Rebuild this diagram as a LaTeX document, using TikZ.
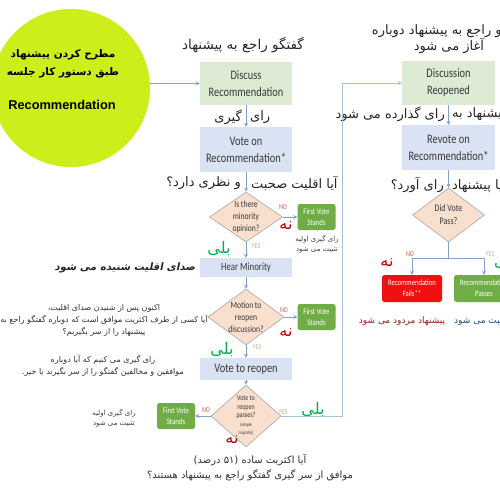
\documentclass[tikz,border=0pt]{standalone}
\usepackage{fontspec}
\setmainfont{DejaVu Sans}
\newfontfamily\farsi[Script=Arabic]{DejaVu Sans}
\newfontfamily\farsislant[Script=Arabic,FakeSlant=0.2]{DejaVu Sans Bold}
\newfontfamily\boxfont[FakeStretch=0.8]{Carlito}
\newfontfamily\latinfont{Liberation Sans}
\TeXXeTstate=1
\usetikzlibrary{arrows.meta,shapes.geometric}

\definecolor{ideagreen}{RGB}{205,238,26}
\definecolor{palegreen}{RGB}{222,235,212}
\definecolor{paleblue}{RGB}{218,227,243}
\definecolor{peach}{RGB}{249,223,205}
\definecolor{rimgray}{RGB}{175,175,175}
\definecolor{leaf}{RGB}{112,173,71}
\definecolor{firered}{RGB}{240,16,16}
\definecolor{linkblue}{RGB}{132,160,205}
\definecolor{loopblue}{RGB}{170,190,222}
\definecolor{noorange}{RGB}{215,95,80}
\definecolor{yespale}{RGB}{160,200,140}
\definecolor{nared}{RGB}{192,0,0}
\definecolor{baligreen}{RGB}{0,176,80}
\definecolor{inkgray}{RGB}{56,56,56}
\definecolor{navy}{RGB}{31,78,121}
\definecolor{wine}{RGB}{150,30,30}

\tikzset{
  link/.style={draw=linkblue, line width=0.8pt, -{Stealth[length=4pt,width=4pt]}},
  plainbox/.style={rectangle, inner sep=0pt, minimum width=92pt, align=center, text=inkgray, font=\boxfont\fontsize{13}{17}\selectfont},
  greenbox/.style={plainbox, fill=palegreen, minimum height=43pt},
  bluebox/.style={plainbox, fill=paleblue, minimum height=45pt},
  question/.style={diamond, fill=peach, draw=rimgray, line width=0.7pt, inner sep=0pt},
  qtext/.style={align=center, inner sep=0pt, text=inkgray, font=\boxfont\fontsize{9.5}{12}\selectfont},
  standbox/.style={rectangle, rounded corners=2.5pt, fill=leaf, minimum width=38pt, minimum height=26pt, inner sep=0pt, align=center, text=white, font=\boxfont\fontsize{8.5}{11}\selectfont},
  nolbl/.style={text=noorange, inner sep=0pt, font=\boxfont\fontsize{7.5}{9}\selectfont},
  yeslbl/.style={text=yespale, inner sep=0pt, font=\boxfont\fontsize{7.5}{9}\selectfont},
  fahead/.style={inner sep=0pt, align=center, text=black!85, font=\farsi\fontsize{13}{16}\selectfont},
  fanote/.style={inner sep=0pt, align=center, text=black!80, font=\farsi\fontsize{8}{12}\selectfont},
  fasmall/.style={inner sep=0pt, align=center, text=black!75, font=\farsi\fontsize{7}{10}\selectfont},
  fabig/.style={inner sep=0pt, font=\farsi\fontsize{16}{18}\selectfont}
}

\begin{document}
\begin{tikzpicture}[x=1pt,y=-1pt]

  \useasboundingbox (0,0) rectangle (500,500);
  \clip (0,0) rectangle (500,500);
  \fill[white] (0,0) rectangle (500,500);

     \coordinate (I) at (71,88);
      \coordinate (D) at (246,83.5);
       \coordinate (V) at (246,149.5);
        \coordinate (Q) at (246,217);
         \coordinate (H) at (246,267.5);
          \coordinate (M) at (246,317);
           \coordinate (R) at (246,369);
            \coordinate (P) at (246,416);
             \coordinate (S) at (316.5,217);
              \coordinate (T) at (316.5,317);
               \coordinate (U) at (176,416);
                \coordinate (O) at (448.5,83);
                 \coordinate (W) at (448.5,147.5);
                  \coordinate (X) at (448.5,215);
                   \coordinate (F) at (412,288.5);
                    \coordinate (G) at (484,288.5);

      \coordinate (turn) at (342,0);
      \coordinate (split) at (448.5,258);
      \coordinate (fl) at (412,258);
      \coordinate (pr) at (484,258);

   \node[circle, fill=ideagreen, minimum size=158pt, inner sep=0pt] (idea) at (I) {};
   \node[fahead, font=\farsi\bfseries\fontsize{10.5}{18}\selectfont, text=black] (idea1) at (63,64) {\beginR مطرح کردن پیشنهاد\endR\\\beginR طبق دستور کار جلسه\endR};
   \node[inner sep=0pt, font=\latinfont\bfseries\fontsize{12.8}{15}\selectfont] (idea2) at (62,105) {Recommendation};

   \node[greenbox] (discuss) at (D) {Discuss\\Recommendation};
   \node[bluebox] (vote) at (V) {Vote on\\Recommendation*};
   \node[question, minimum width=73pt, minimum height=50pt, label={[qtext]center:{Is there\\minority\\opinion?}}] (minq) at (Q) {};
   \node[plainbox, fill=paleblue, minimum height=19pt, font=\boxfont\fontsize{11}{13}\selectfont] (hear) at (H) {Hear Minority};
   \node[question, minimum width=76pt, minimum height=56pt, label={[qtext]center:{Motion to\\reopen\\discussion?}}] (motq) at (M) {};
   \node[plainbox, fill=paleblue, minimum height=22pt] (reopen) at (R) {Vote to reopen};
   \node[question, minimum width=70pt, minimum height=62pt, label={[qtext, font=\boxfont\fontsize{7.5}{8.5}\selectfont]center:{Vote to\\reopen\\passes?\\{\fontsize{5}{5.5}\selectfont(simple}\\{\fontsize{5}{5.5}\selectfont majority)}}}] (passq) at (P) {};
   \node[standbox] (stand1) at (S) {First Vote\\Stands};
   \node[standbox] (stand2) at (T) {First Vote\\Stands};
   \node[standbox] (stand3) at (U) {First Vote\\Stands};

   \node[greenbox, minimum width=93pt, minimum height=44pt] (reopened) at (O) {Discussion\\Reopened};
   \node[bluebox, minimum width=93pt] (revote) at (W) {Revote on\\Recommendation*};
   \node[question, minimum width=72pt, minimum height=54pt, label={[qtext, font=\boxfont\fontsize{10}{13}\selectfont]center:{Did Vote\\Pass?}}] (didq) at (X) {};
   \node[standbox, fill=firered, minimum width=60pt, minimum height=27pt, font=\boxfont\fontsize{8.3}{11}\selectfont] (fails) at (F) {Recommendation\\Fails**};
   \node[standbox, minimum width=60pt, minimum height=27pt, font=\boxfont\fontsize{8.3}{11}\selectfont] (passes) at (G) {Recommendation\\Passes};

   \node[fahead, font=\farsi\fontsize{13.5}{16}\selectfont] (t1) at (243,45) {\beginR گفتگو راجع به پیشنهاد\endR};
   \node[fahead, anchor=west] (t2a) at (250,117) {\beginR رای\endR};
   \node[fahead, anchor=east] (t2b) at (242,117) {\beginR گیری\endR};
   \node[fahead, anchor=west] (t3a) at (251,183) {\beginR آیا اقلیت صحبت\endR};
   \node[fahead, anchor=east] (t3b) at (241,183) {\beginR و نظری دارد؟\endR};
   \node[inner sep=0pt, text=black!85, font=\farsislant\fontsize{10.2}{14}\selectfont] (t4) at (125,268) {\beginR صدای اقلیت شنیده می شود\endR};
   \node[fanote] (t5) at (104,320) {\beginR اکنون پس از شنیدن صدای اقلیت،\endR\\\beginR آیا کسی از طرف اکثریت موافق است که دوباره گفتگو راجع به\endR\\\beginR پیشنهاد را از سر بگیریم؟\endR};
   \node[fanote] (t6) at (103,366) {\beginR رای گیری می کنیم که آیا دوباره\endR\\\beginR موافقین و مخالفین گفتگو را از سر بگیرند یا خیر.\endR};
   \node[fanote, font=\farsi\fontsize{10}{15}\selectfont] (t7) at (250,468) {\beginR آیا اکثریت ساده (۵۱ درصد)\endR\\\beginR موافق از سر گیری گفتگو راجع به پیشنهاد هستند؟\endR};
   \node[fasmall] (c1) at (317,244) {\beginR رای گیری اولیه\endR\\\beginR تثبیت می شود\endR};
   \node[fasmall] (c3) at (114,418) {\beginR رای گیری اولیه\endR\\\beginR تثبیت می شود\endR};

   \node[fahead] (t8) at (449,38) {\beginR گفتگو راجع به پیشنهاد دوباره\endR\\\beginR آغاز می شود\endR};
   \node[fahead, anchor=west] (t9a) at (452,114) {\beginR پیشنهاد به\endR};
   \node[fahead, anchor=east] (t9b) at (445,114) {\beginR رای گذارده می شود\endR};
   \node[fahead, anchor=west] (t10a) at (452,185) {\beginR آیا پیشنهاد\endR};
   \node[fahead, anchor=east] (t10b) at (444,185) {\beginR رای آورد؟\endR};
   \node[fanote, font=\farsi\fontsize{9}{11}\selectfont, text=wine] (c4) at (402,321) {\beginR پیشنهاد مردود می شود\endR};
   \node[fanote, font=\farsi\fontsize{9}{11}\selectfont, text=navy, anchor=west] (c5) at (454,321) {\beginR پیشنهاد تثبیت می شود\endR};

   \node[nolbl] (n1) at (283,207) {NO};
   \node[nolbl] (n2) at (284,310) {NO};
   \node[nolbl] (n3) at (206,410) {NO};
   \node[nolbl] (n4) at (410,254) {NO};
   \node[yeslbl] (y1) at (256,246) {YES};
   \node[yeslbl] (y2) at (257,347) {YES};
   \node[yeslbl] (y3) at (283,412) {YES};
   \node[yeslbl] (y4) at (490,254) {YES};

   \node[fabig, text=nared] (na1) at (286,226) {\beginR نه\endR};
   \node[fabig, text=nared] (na2) at (286,333) {\beginR نه\endR};
   \node[fabig, text=nared] (na3) at (232,440) {\beginR نه\endR};
   \node[fabig, text=nared] (na4) at (387,263) {\beginR نه\endR};
   \node[fabig, text=baligreen] (ba1) at (219,249) {\beginR بلی\endR};
   \node[fabig, text=baligreen] (ba2) at (222,350) {\beginR بلی\endR};
   \node[fabig, text=baligreen] (ba3) at (313,410) {\beginR بلی\endR};
   \node[fabig, text=baligreen, anchor=west] (ba4) at (494,262) {\beginR بلی\endR};

    \draw[link] (discuss.west -| idea.east) -- (discuss.west);
    \draw[link] (discuss) -- (vote);
    \draw[link] (vote) -- (minq);
    \draw[link] (minq) -- (stand1);
    \draw[link] (minq) -- (hear);
    \draw[link] (hear) -- (motq);
    \draw[link] (motq) -- (stand2);
    \draw[link] (motq) -- (reopen);
    \draw[link] (reopen) -- (passq);
    \draw[link] (passq) -- (stand3);
    \draw[link, draw=loopblue] (passq.east) -- (passq.east -| turn) |- (reopened.west);
    \draw[link] (reopened) -- (revote);
    \draw[link] (revote) -- (didq);
    \draw[draw=linkblue, line width=0.8pt] (didq.south) -- (split);
    \draw[draw=linkblue, line width=0.8pt] (fl) -- (pr);
    \draw[link] (fl) -- (fails);
    \draw[link] (pr) -- (passes);

\end{tikzpicture}
\end{document}
